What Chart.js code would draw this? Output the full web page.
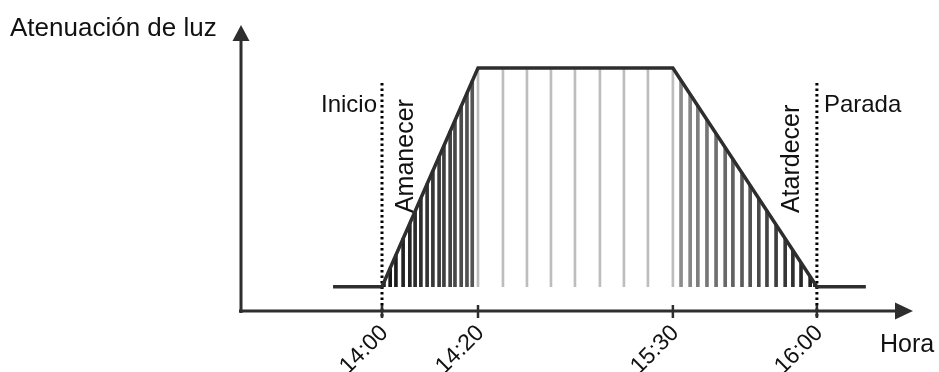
<!DOCTYPE html>
<html>
<head>
<meta charset="utf-8">
<script src="https://cdn.jsdelivr.net/npm/chart.js@4"></script>
<style>
  body { margin: 0; background: #fff; }
  canvas { display: block; }
</style>
</head>
<body>
<canvas id="dimChart" width="939" height="372"></canvas>
<script>
// x values are diagram positions (the plateau is drawn compressed), labels map them to clock times
const tickValues = [0, 20, 60.6, 90.6];
const tickLabels = ['14:00', '14:20', '15:30', '16:00'];

// main dimming curve
const curveX = [-10.2, 0, 20, 60.6, 90.6, 100.8];
const curveY = [10, 10, 100, 100, 10, 10];

// hatch lines under the curve (bottom is the base level)
const baseLevel = 10;
const riseX = [0.4, 1.7, 2.9, 4.4, 5.8, 6.9, 8.1, 9.4, 10.6, 11.9, 12.9, 14.2, 15.2, 16.5, 17.7, 18.8];
const riseTop = [11.8, 17.6, 23, 29.8, 36.1, 41, 46.5, 52.3, 57.7, 63.6, 68, 73.9, 78.4, 84.3, 89.7, 94.6];
const plateauX = [20, 25.2, 30.2, 35.2, 40.2, 45.4, 50.4, 55.4, 60.6];
const plateauTop = [100, 100, 100, 100, 100, 100, 100, 100, 100];
const fallX = [62.3, 64.2, 65.8, 67.7, 69.6, 71.5, 73.1, 75, 76.7, 78.5, 80.2, 82.1, 84, 85.6, 87.3, 89.2, 90.2];
const fallTop = [94.9, 89.2, 84.4, 78.7, 73, 67.3, 62.5, 56.8, 51.7, 46.3, 41.2, 35.5, 29.8, 25, 19.9, 14.2, 11.2];

// start / stop markers
const markerX = [0, 90.6];
const markerTop = 93.8;
const markerLabels = ['Inicio', 'Parada'];
const phaseLabels = ['Amanecer', 'Atardecer'];

const yTitle = 'Atenuación de luz';
const xTitle = 'Hora';

const FONT = '"Liberation Sans", Arial, sans-serif';
const AXIS_COLOR = '#2e2e2e';

function toPoints(xs, ys) {
  return xs.map((x, i) => ({ x: x, y: ys[i] }));
}

function toBars(xs, tops) {
  return xs.map((x, i) => ({ x: x, y: [baseLevel, tops[i]] }));
}

// grey shade that fades along a ramp
function shade(from, to) {
  return function (ctx) {
    const n = ctx.dataset.data.length - 1;
    const t = n > 0 ? ctx.dataIndex / n : 0;
    const v = Math.round(from + (to - from) * t);
    return `rgb(${v}, ${v}, ${v})`;
  };
}

// draws the arrowed axes, ticks and all the labels
const diagramPlugin = {
  id: 'diagram',
  afterDatasetsDraw(chart) {
    const c = chart.ctx;
    const xs = chart.scales.x;
    const ys = chart.scales.y;
    const left = chart.chartArea.left;
    const bottom = chart.chartArea.bottom;
    const right = chart.chartArea.right;
    const top = chart.chartArea.top;

    c.save();
    c.strokeStyle = AXIS_COLOR;
    c.fillStyle = AXIS_COLOR;
    c.lineWidth = 3;

    // y axis + arrow
    c.beginPath();
    c.moveTo(left, bottom + 2);
    c.lineTo(left, top + 12);
    c.stroke();
    c.beginPath();
    c.moveTo(left, top);
    c.lineTo(left - 8.5, top + 16);
    c.lineTo(left + 8.5, top + 16);
    c.closePath();
    c.fill();

    // x axis + arrow
    c.beginPath();
    c.moveTo(left - 2, bottom);
    c.lineTo(right - 12, bottom);
    c.stroke();
    c.beginPath();
    c.moveTo(right, bottom);
    c.lineTo(right - 18, bottom - 8.5);
    c.lineTo(right - 18, bottom + 8.5);
    c.closePath();
    c.fill();

    // ticks
    c.lineWidth = 2.5;
    tickValues.forEach(v => {
      const px = xs.getPixelForValue(v);
      c.beginPath();
      c.moveTo(px, bottom - 6);
      c.lineTo(px, bottom + 7);
      c.stroke();
    });

    c.fillStyle = '#111';
    // tick labels, rotated
    c.font = `23px ${FONT}`;
    c.textAlign = 'right';
    c.textBaseline = 'alphabetic';
    tickValues.forEach((v, i) => {
      const px = xs.getPixelForValue(v);
      c.save();
      c.translate(px + 7, bottom + 23);
      c.rotate(-Math.PI / 4);
      c.fillText(tickLabels[i], 0, 0);
      c.restore();
    });

    // axis titles
    c.font = `26px ${FONT}`;
    c.textAlign = 'left';
    c.fillText(yTitle, 10, 36);
    c.font = `25px ${FONT}`;
    c.fillText(xTitle, 880, 352);

    // start / stop labels
    c.font = `24px ${FONT}`;
    const startPx = xs.getPixelForValue(markerX[0]);
    const stopPx = xs.getPixelForValue(markerX[1]);
    const labelY = ys.getPixelForValue(81.9);
    c.textAlign = 'right';
    c.fillText(markerLabels[0], startPx - 5, labelY);
    c.textAlign = 'left';
    c.fillText(markerLabels[1], stopPx + 7, labelY);

    // phase labels, vertical
    c.font = `25px ${FONT}`;
    c.textAlign = 'left';
    [[startPx + 31, phaseLabels[0]], [stopPx - 18, phaseLabels[1]]].forEach(([px, txt]) => {
      c.save();
      c.translate(px, ys.getPixelForValue(40.3));
      c.rotate(-Math.PI / 2);
      c.fillText(txt, 0, 0);
      c.restore();
    });

    c.restore();
  }
};

const ctx = document.getElementById('dimChart').getContext('2d');

const dimChart = new Chart(ctx, {
  type: 'bar',
  data: {
    datasets: [
      {
        type: 'line',
        data: toPoints(curveX, curveY),
        borderColor: AXIS_COLOR,
        borderWidth: 3.5,
        pointRadius: 0,
        tension: 0,
        order: 0,
      },
      {
        type: 'line',
        data: toPoints([markerX[0], markerX[0]], [markerTop, -3]),
        borderColor: '#000',
        borderWidth: 3,
        borderDash: [2.5, 3],
        pointRadius: 0,
        clip: false,
        order: 0,
      },
      {
        type: 'line',
        data: toPoints([markerX[1], markerX[1]], [markerTop, -3]),
        borderColor: '#000',
        borderWidth: 3,
        borderDash: [2.5, 3],
        pointRadius: 0,
        clip: false,
        order: 0,
      },
      {
        data: toBars(riseX, riseTop),
        backgroundColor: shade(20, 85),
        barThickness: 3,
        grouped: false,
        order: 1,
      },
      {
        data: toBars(plateauX, plateauTop),
        backgroundColor: '#bdbdbd',
        barThickness: 2,
        grouped: false,
        order: 1,
      },
      {
        data: toBars(fallX, fallTop),
        backgroundColor: shade(140, 25),
        barThickness: 3,
        grouped: false,
        order: 1,
      },
    ],
  },
  options: {
    responsive: false,
    animation: false,
    layout: {
      padding: { left: 241, right: 26, top: 25, bottom: 61 },
    },
    scales: {
      x: {
        type: 'linear',
        min: -29.375,
        max: 110.625,
        offset: false,
        display: false,
      },
      y: {
        type: 'linear',
        min: 0,
        max: 117.7,
        display: false,
      },
    },
    plugins: {
      legend: { display: false },
      tooltip: { enabled: false },
    },
  },
  plugins: [diagramPlugin],
});
</script>
</body>
</html>
